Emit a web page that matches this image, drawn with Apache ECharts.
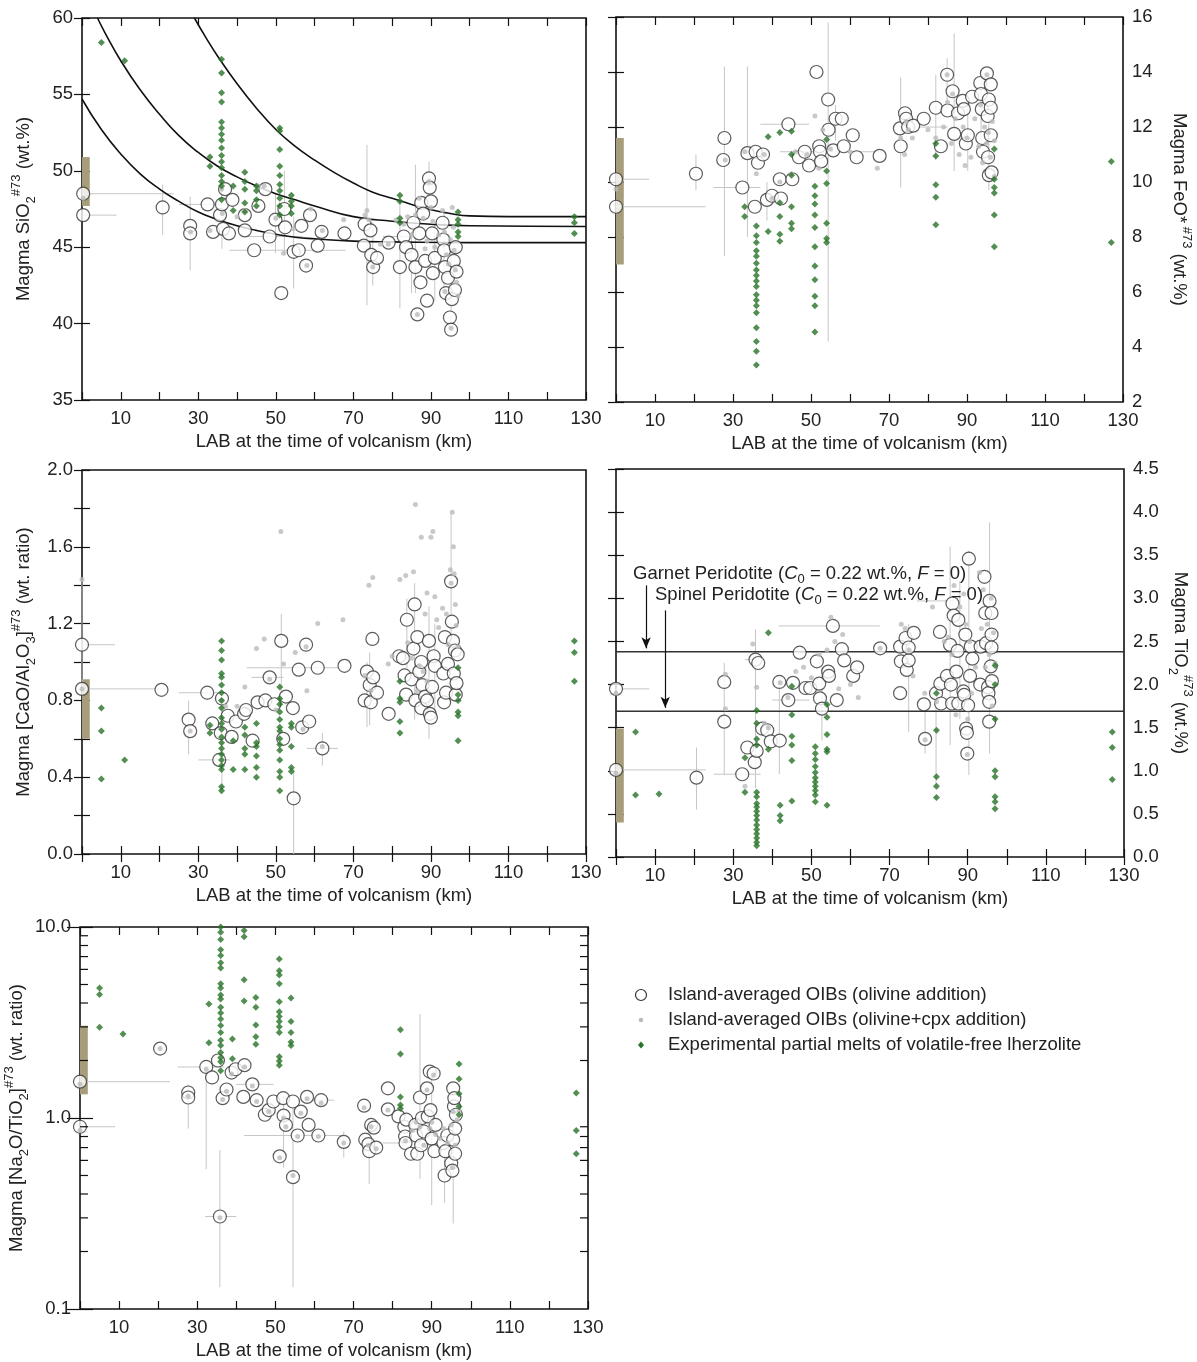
<!DOCTYPE html>
<html style="height: 100%">
<head>
  <meta charset="utf-8">
  <script src="https://cdn.jsdelivr.net/npm/echarts@6/dist/echarts.min.js"></script>
</head>
<body style="height: 100%; margin: 0; background: #fff">
  <div id="main" style="width: 1197px; height: 1362px"></div>
  <script type="text/javascript">
    // --- data (x = LAB depth in km) ---
    var legendNames = ['Island-averaged OIBs (olivine addition)',
                       'Island-averaged OIBs (olivine+cpx addition)',
                       'Experimental partial melts of volatile-free lherzolite'];

    // panel a: SiO2
    var sio2Circles = [[0.3,48.5],[0.3,47.1],[20.8,47.6],[27.9,46.4],[27.9,45.9],[32.4,47.8],[33.8,46.0],[35.6,47.1],[36.1,47.8],[36.4,46.2],[36.9,48.8],[37.9,45.9],[38.8,48.1],[42,47.1],[42,46.1],[44.4,44.8],[45.5,47.7],[47.3,48.8],[48.4,45.7],[49.9,46.8],[51.4,42.0],[52.2,47.5],[52.4,46.3],[54.6,44.7],[55.9,44.8],[56.6,46.4],[57.8,43.8],[58.8,47.1],[60.8,45.1],[61.8,46.0],[67.7,45.9],[72.7,45.1],[72.9,46.5],[74.4,46.1],[74.6,44.5],[75.1,43.7],[76.1,44.3],[79.1,45.3],[82,43.7],[83,45.7],[83.6,45.0],[85,44.5],[85.5,46.6],[86,43.7],[86.5,40.6],[87,45.9],[87.3,42.7],[87.5,47.9],[88,47.2],[88.5,44.1],[89,41.5],[89.5,49.5],[89.7,48.9],[90,48.0],[90.3,45.9],[90.5,43.3],[91,44.3],[93,46.6],[93.2,45.5],[93.4,44.8],[93.6,43.7],[93.9,42.0],[94.4,43.0],[94.9,40.4],[95.2,39.6],[95.4,41.6],[95.9,44.1],[96.2,42.2],[96.4,45.0],[96.6,43.4]];
    var sio2Greys = [[0.3,48.2],[28,46.0],[33,46.1],[36,48.8],[36.2,47.2],[40,47.0],[42,47.4],[45.5,49.0],[47,49.0],[50,46.9],[52,44.6],[54.5,46.2],[58,43.8],[59,47.5],[62,46.1],[67.5,46.8],[73,47.1],[73.5,47.4],[74,46.8],[75,43.7],[77,45.2],[79,45.2],[81,46.8],[83,46.5],[84,47.0],[85,45.8],[86,47.1],[86.5,40.6],[87,48.2],[88,46.9],[88.5,44.9],[89,45.4],[89.5,49.3],[90,47.6],[90.5,46.7],[91,45.0],[92,45.8],[93,47.4],[93.5,46.0],[94,44.5],[94.5,43.9],[95,45.5],[95.5,47.6],[95.8,46.3],[96,44.8],[96.3,43.5],[96.6,42.7],[97,41.8],[95.2,39.7],[93.6,42.1]];
    var sio2Melts = [[5,58.4],[11,57.2],[33,50.9],[33,50.3],[36,57.3],[36,56.4],[36,55.1],[36,54.5],[36,53.2],[36,52.8],[36,52.4],[36,52.0],[36,51.5],[36,51.0],[36,50.6],[36,50.2],[36,49.7],[36,49.3],[36,49.0],[36,48.1],[39,49.0],[39,47.4],[42,49.9],[42,49.3],[42,48.8],[42,47.9],[42,47.3],[45,49.0],[45,48.7],[45,48.1],[45,47.7],[51,52.8],[51,52.6],[51,51.4],[51,50.3],[51,49.7],[51,49.1],[51,48.7],[51,48.2],[51,47.7],[51,47.1],[54,48.4],[54,48.0],[54,47.7],[54,47.2],[82,48.4],[82,48.0],[82,46.9],[82,46.6],[97,47.3],[97,46.8],[97,46.5],[97,46.0],[97,45.7],[127,47.0],[127,46.6],[127,45.9]];
    // [x, y, xlo, xhi, ylo, yhi]
    var sio2Errors = [[0.3,48.5,0.3,23.7,48.5,48.5],[0.3,47.1,0.3,8.9,47.1,47.1],[20.8,47.6,20.8,20.8,45.8,49.1],[27.9,46.4,27.9,27.9,43.5,48.3],[32.4,47.8,25,37,47.8,47.8],[36.1,47.8,36.1,36.1,44.9,49.4],[44.4,44.8,38,68,44.8,44.8],[48.4,45.7,42,57,45.7,45.7],[49.9,46.8,49.9,49.9,44.6,48.5],[52.2,47.5,52.2,52.2,44.5,50.0],[54.6,44.7,54.6,54.6,42.3,47.0],[73.5,45.0,73.5,73.5,41.2,51.7],[82,43.7,82,82,41.0,48.0],[83,45.7,77.6,84.5,45.7,45.7],[86,43.7,86,86,42.0,50.4],[89.5,49.5,89.5,89.5,48.0,50.6],[93.4,44.8,93.4,93.4,41.6,47.4],[95.2,39.6,95.2,95.2,39.8,45.0],[75,44.5,75,75,42.5,46.6],[85,44.5,85,85,42.0,46.0],[91,44.3,91,91,41.5,46.5]];
    var sio2CurveLow = [[0,54.7],[5,52.7],[10,51.1],[15,49.8],[20,48.8],[25,48.0],[30,47.3],[35,46.8],[40,46.4],[45,46.1],[50,45.85],[55,45.65],[60,45.55],[70,45.4],[80,45.35],[100,45.3],[130,45.3]];
    var sio2CurveMid = [[4,60],[6,59.0],[10,57.2],[15,55.3],[20,53.7],[25,52.3],[30,51.2],[35,50.3],[40,49.6],[45,49.0],[50,48.5],[55,48.1],[60,47.7],[70,47.0],[80,46.7],[90,46.5],[100,46.4],[130,46.35]];
    var sio2CurveHigh = [[29,60],[32,58.7],[35,57.5],[40,55.7],[45,54.1],[50,52.7],[55,51.6],[60,50.7],[65,49.9],[70,49.2],[75,48.6],[80,48.2],[85,47.8],[90,47.45],[95,47.2],[100,47.05],[110,47.0],[130,47.0]];
    var sio2Band = [47.7, 50.9];

    // panel b: FeO*
    var feoCircles = [[0,10.1],[0,9.1],[20.5,10.3],[27.5,10.8],[27.8,11.6],[32.4,9.8],[33.7,11.05],[35.6,9.1],[35.8,11.1],[36.4,10.7],[37.7,11.0],[38.7,9.35],[40,9.5],[42,10.1],[42.3,9.4],[44.2,12.1],[45.2,10.1],[46.9,10.9],[48.4,11.1],[49.5,10.6],[51.4,14.0],[52.1,11.3],[52.3,11.1],[52.6,10.75],[54.4,13.0],[54.5,11.9],[55.7,11.15],[56.3,12.3],[57.9,12.3],[58.4,11.3],[60.7,11.7],[61.7,10.9],[67.6,10.95],[72.8,11.95],[73,11.3],[74.1,12.5],[74.4,12.3],[74.9,12.0],[76.2,12.05],[78.9,12.3],[82,12.7],[83.3,11.3],[85,12.6],[84.9,13.9],[86.3,13.3],[86.7,11.75],[87.7,12.5],[88.9,12.95],[89.2,12.65],[89.7,11.4],[90.2,11.7],[91.3,13.1],[93.4,13.6],[93.6,13.2],[93.8,12.65],[93.9,11.6],[94.1,11.1],[95.1,13.95],[95.3,12.4],[95.4,10.9],[95.6,13.0],[96.1,13.55],[96.1,12.7],[96.1,11.7],[95.6,10.25],[96.3,10.35]];
    var feoGreys = [[0,9.75],[28,10.8],[33,11.1],[36,10.3],[38,11.0],[40,9.4],[42,10.0],[45,10.3],[46,11.1],[49,11.0],[51,12.4],[52,10.5],[53,11.9],[55,11.2],[60,11.1],[67,10.5],[73,11.6],[74,11.0],[75,11.9],[76,11.6],[80,11.9],[82,11.6],[84,12.0],[85,12.9],[86,11.4],[87,12.3],[88,11.0],[89,12.0],[89.5,10.6],[90,11.6],[91,10.9],[92,12.3],[93,11.3],[93.5,12.8],[94,10.7],[94.5,12.0],[95,11.4],[95.5,11.8],[96,10.9],[96.5,12.2],[97,11.5],[97,10.2],[84.9,13.9],[95.1,13.9],[86.3,13.2],[74.4,12.2]];
    var feoMelts = [[33,9.1],[33,8.75],[36,8.4],[36,8.05],[36,7.8],[36,7.5],[36,7.3],[36,7.05],[36,6.8],[36,6.6],[36,6.4],[36,6.2],[36,5.9],[36,5.7],[36,5.5],[36,5.25],[36,4.7],[36,4.2],[36,3.85],[36,3.35],[39,11.65],[39,8.2],[42,11.8],[42,9.25],[42,8.75],[42,8.1],[42,7.85],[45,11.85],[45,11.0],[45,10.25],[45,9.1],[45,8.5],[45,8.3],[51,9.85],[51,9.5],[51,9.2],[51,8.8],[51,8.35],[51,7.65],[51,6.95],[51,6.45],[51,5.85],[51,5.5],[51,4.55],[54,11.55],[54,10.4],[54,9.95],[54,8.5],[54,7.95],[54,7.8],[82,11.4],[82,10.95],[82,9.9],[82,9.45],[82,8.45],[97,11.2],[97,10.1],[97,9.8],[97,9.6],[97,8.8],[97,7.65],[127,10.75],[127,7.8]];
    var feoErrors = [[0,10.1,0,8.5,10.1,10.1],[0,9.1,0,23,9.1,9.1],[20.5,10.3,20.5,20.5,9.7,11.0],[27.8,11.6,27.8,27.8,7.3,14.2],[32.4,9.8,25,37,9.8,9.8],[33.7,11.05,33.7,33.7,8.0,14.2],[38.7,9.35,38.7,38.7,8.6,10.0],[44.2,12.1,37,49.5,12.1,12.1],[52.3,11.1,42,68,11.1,11.1],[54.4,13.0,54.4,54.4,4.2,15.8],[56.3,12.3,56.3,56.3,11.5,12.8],[73,11.3,73,73,9.8,13.8],[79,12.0,76,85,12.0,12.0],[82,12.7,82,82,10.8,13.9],[84.9,13.9,84.9,84.9,12.6,14.5],[86.7,11.75,86.7,86.7,10.4,15.4],[90.2,11.7,90.2,90.2,10.4,12.9],[95.6,10.25,95.6,95.6,9.7,12.4],[93.6,13.2,93.6,93.6,11.5,13.8]];
    var feoBand = [7.0, 11.6];

    // panel c: CaO/Al2O3
    var caoCircles = [[0,1.09],[0,0.86],[20.5,0.855],[27.5,0.70],[27.9,0.64],[32.3,0.84],[33.6,0.68],[35.4,0.49],[35.8,0.63],[36.1,0.81],[37.6,0.72],[38.6,0.61],[39.7,0.69],[41.8,0.73],[42.3,0.75],[44,0.59],[45.3,0.79],[47.3,0.80],[48.4,0.92],[49.6,0.78],[51.4,1.11],[51.9,0.60],[52.6,0.82],[54.4,0.76],[54.6,0.29],[55.9,0.96],[56.8,0.66],[57.8,1.09],[58.6,0.69],[60.8,0.97],[62,0.55],[67.7,0.98],[72.9,0.80],[73.5,0.95],[74.2,0.88],[74.5,0.79],[74.9,1.12],[75.1,0.92],[76.1,0.84],[79.1,0.73],[81.8,1.03],[82.8,1.02],[83.2,0.93],[83.6,0.83],[83.8,1.22],[85,0.91],[85.5,1.07],[85.8,1.30],[86,0.80],[86.5,1.13],[87,0.95],[87.5,1.0],[87.5,0.76],[87.8,0.88],[88.5,0.82],[89,0.80],[89.5,1.11],[89.7,0.73],[90,0.71],[90.3,0.87],[90.7,1.03],[91,0.98],[93.2,0.94],[93.4,0.79],[93.6,1.13],[93.9,0.84],[94.4,0.99],[95.2,1.42],[95.4,1.21],[95.7,1.11],[95.9,0.94],[96.2,1.06],[96.4,0.83],[96.6,0.89],[96.9,1.04]];
    var caoGreys = [[0,1.43],[0,0.86],[27.9,0.64],[51.3,1.68],[67.3,1.22],[60.8,1.20],[47,1.12],[45,1.07],[55,1.05],[52,0.99],[58,0.85],[40,0.77],[42,0.87],[74,1.40],[75,1.44],[82,1.43],[83.5,1.45],[85.5,1.47],[86,1.82],[87.5,1.65],[88.5,1.25],[89,1.36],[90,1.65],[90.5,1.68],[91,1.34],[91.5,1.22],[92,1.18],[93,1.28],[94,1.25],[95,1.48],[95.5,1.78],[95.8,1.60],[96,1.46],[96.3,1.30],[96.5,1.19],[97,1.08],[94.5,1.09],[88,0.95],[89,0.90],[86.5,0.85],[84,1.10],[85,1.02],[87,0.98],[79,0.99],[80,1.03],[73,0.93],[74.5,0.85],[36,0.80],[37,0.77],[50,0.75],[62,0.56],[57,0.65],[95.2,1.41],[57.8,1.08],[48.4,0.91]];
    var caoMelts = [[5,0.76],[5,0.64],[5,0.39],[11,0.49],[33,0.67],[33,0.63],[36,1.11],[36,1.06],[36,1.01],[36,0.94],[36,0.92],[36,0.88],[36,0.84],[36,0.80],[36,0.76],[36,0.71],[36,0.68],[36,0.65],[36,0.61],[36,0.58],[36,0.55],[36,0.52],[36,0.49],[36,0.46],[36,0.44],[36,0.35],[36,0.33],[39,0.59],[39,0.44],[42,0.66],[42,0.62],[42,0.55],[42,0.52],[42,0.44],[45,0.68],[45,0.58],[45,0.56],[45,0.51],[45,0.45],[45,0.40],[51,0.87],[51,0.81],[51,0.78],[51,0.74],[51,0.70],[51,0.66],[51,0.64],[51,0.60],[51,0.57],[51,0.54],[51,0.49],[51,0.43],[51,0.40],[51,0.33],[54,0.68],[54,0.66],[54,0.56],[54,0.45],[54,0.43],[82,0.90],[82,0.81],[82,0.79],[82,0.69],[82,0.63],[97,0.97],[97,0.83],[97,0.80],[97,0.74],[97,0.72],[97,0.59],[127,1.11],[127,1.05],[127,0.90]];
    var caoErrors = [[0,1.09,0,8.5,1.09,1.09],[0,0.86,0,22,0.86,1.43],[27.5,0.70,27.5,27.5,0.52,0.80],[32.3,0.84,25,37,0.84,0.84],[35.4,0.49,30,38,0.49,0.49],[36.1,0.81,36.1,36.1,0.33,0.85],[48.4,0.92,43.7,52,0.92,0.92],[51.4,1.11,51.4,51.4,0.84,1.25],[54.6,0.29,54.6,54.6,0.0,0.45],[60.8,0.97,42.5,67.7,0.97,0.97],[62,0.55,58,66,0.46,0.63],[74.2,0.88,74.2,74.2,0.67,1.05],[83.8,1.22,83.8,83.8,0.97,1.33],[85.8,1.30,85.8,85.8,0.70,1.41],[89.5,1.11,89.5,89.5,0.60,1.29],[95.2,1.42,95.2,95.2,0.85,1.77],[73.5,0.95,73.5,73.5,0.66,1.0],[91,0.98,91,91,0.7,1.2]];
    var caoBand = [0.60, 0.91];

    // panel d: TiO2
    var tioCircles = [[0,1.95],[0,1.01],[20.6,0.92],[27.7,2.03],[27.7,1.57],[32.3,0.96],[33.6,1.27],[35.5,1.1],[35.7,2.29],[36.4,2.25],[36,1.23],[37.4,1.49],[38.7,1.47],[39.6,1.34],[41.9,1.35],[41.8,2.03],[44.1,1.82],[45.3,2.02],[47,2.37],[48.5,1.96],[49.7,1.96],[51.4,2.27],[52,2.01],[52.2,1.84],[52.7,1.72],[54.3,2.15],[54.5,2.1],[55.5,2.68],[56.5,1.82],[57.8,2.41],[58.4,2.28],[60.7,2.1],[61.7,2.2],[67.6,2.42],[72.7,2.44],[72.9,2.27],[72.7,1.9],[74.1,2.54],[74.4,2.17],[74.9,2.28],[74.9,2.43],[76.2,2.6],[78.8,1.77],[79.1,1.37],[81.9,1.9],[82.9,2.61],[83,2.01],[83.2,1.78],[84.7,2.1],[85.5,2.46],[85.7,2.0],[86,1.78],[86.1,2.94],[86.4,2.8],[87.1,2.15],[87.4,2.39],[87.6,1.78],[87.6,2.75],[88.9,1.92],[89.1,1.88],[89.4,2.58],[89.6,1.49],[89.8,1.44],[89.9,1.2],[90.1,1.76],[90.3,3.46],[90.6,2.1],[90.8,2.44],[91.2,2.3],[93.2,2.0],[93.3,2.44],[94.3,3.25],[94.5,2.83],[94.7,2.48],[95.2,1.97],[95.3,1.9],[95.5,1.8],[95.5,1.57],[95.6,2.97],[95.9,2.21],[96.1,2.83],[96.1,2.58],[96.1,2.43],[96.2,2.04]];
    var tioGreys = [[0,1.9],[0,0.97],[28,2.12],[28,1.72],[33,0.82],[35,2.47],[36,1.97],[38,1.55],[39,1.5],[42,2.02],[44,1.85],[46,2.15],[48,2.2],[50,2.08],[52,2.35],[54,2.4],[55,2.78],[56,2.5],[57,1.95],[58,2.58],[60,2.0],[62,1.85],[73,2.7],[74,2.65],[75,2.4],[76,2.1],[79,1.9],[81,2.9],[82,1.8],[84,2.5],[85,2.55],[86,2.35],[86.5,3.15],[87,1.65],[88,2.9],[89,3.05],[89.5,2.7],[90,1.6],[90.5,2.5],[91,1.9],[92,2.2],[93,3.3],[93.5,2.65],[94,3.1],[94.5,2.2],[95,2.7],[95.5,2.35],[96,3.0],[96.3,1.75],[96.6,2.6],[97,2.25],[89.9,1.19],[79.1,1.36],[67.6,2.42]];
    var tioMelts = [[5,1.45],[5,0.72],[11,0.73],[33,1.15],[33,0.75],[36,1.70],[36,1.55],[36,1.37],[36,1.30],[36,0.75],[36,0.70],[36,0.62],[36,0.58],[36,0.53],[36,0.48],[36,0.43],[36,0.37],[36,0.32],[36,0.27],[36,0.22],[36,0.17],[36,0.13],[39,2.60],[39,1.25],[42,0.60],[42,0.48],[42,0.42],[45,1.98],[45,1.65],[45,1.40],[45,1.30],[45,1.12],[45,0.65],[51,1.28],[51,1.20],[51,1.13],[51,1.05],[51,0.98],[51,0.92],[51,0.87],[51,0.82],[51,0.77],[51,0.72],[51,0.64],[54,1.77],[54,1.62],[54,1.42],[54,1.25],[54,1.22],[54,0.60],[82,1.90],[82,1.47],[82,0.93],[82,0.82],[82,0.69],[97,2.22],[97,2.00],[97,1.60],[97,1.00],[97,0.93],[97,0.70],[97,0.64],[97,0.56],[127,1.45],[127,1.27],[127,0.90]];
    var tioErrors = [[0,1.95,0,8.5,1.95,1.95],[0,1.01,0,23,1.01,1.01],[20.6,0.92,20.6,20.6,0.55,1.27],[27.7,2.03,27.7,27.7,0.95,2.25],[32.3,0.96,25,37,0.96,0.96],[35.7,2.29,33,37,0.80,2.64],[41.8,2.03,41.8,41.8,0.96,2.1],[44.1,1.82,40,49.5,1.82,1.82],[55.5,2.68,41.6,67.5,2.68,2.68],[52.7,1.72,52.7,52.7,1.35,2.2],[74.9,2.28,74.9,74.9,1.45,2.7],[79.1,1.37,79.1,79.1,1.2,1.85],[81.9,1.9,81.9,81.9,0.85,2.0],[82,2.97,77,87,2.97,2.97],[85.5,2.46,85.5,85.5,1.3,3.6],[90.3,3.46,90.3,90.3,0.95,3.55],[95.6,2.97,95.6,95.6,1.2,3.88],[88,2.39,88,88,1.6,3.2]];
    var tioBand = [0.40, 1.49];
    var garnetLevel = 2.38;
    var spinelLevel = 1.69;
    var garnetArrow = [[7.7, 3.15], [7.7, 2.42]];
    var spinelArrow = [[12.6, 2.86], [12.6, 1.73]];

    // panel e: Na2O/TiO2 (log)
    var naCircles = [[0,1.55],[0,0.90],[20.5,2.31],[27.7,1.36],[27.7,1.28],[32.3,1.85],[33.8,1.63],[35.3,2.0],[35.8,0.305],[36.5,1.27],[37.5,1.41],[38.8,1.73],[39.8,1.80],[42.1,1.89],[41.8,1.29],[44.1,1.5],[45.2,1.24],[47.3,1.04],[48.3,1.10],[49.5,1.22],[51.1,0.63],[52,1.27],[52.1,1.03],[52.7,0.92],[54.5,1.22],[54.5,0.49],[55.7,0.81],[56.5,1.08],[58.1,1.29],[58.5,0.92],[61,0.81],[61.7,1.24],[67.5,0.75],[72.7,1.16],[73,0.77],[73.8,0.73],[74,0.67],[74.5,0.92],[75.2,0.89],[75.8,0.70],[78.8,1.43],[78.8,1.11],[81.5,1.02],[83,0.90],[83.2,0.80],[83.3,0.74],[83.5,0.98],[84.7,0.65],[85.8,0.92],[86,0.81],[86.3,0.65],[87,1.28],[87.3,0.72],[87.5,1.0],[88,0.85],[88.8,1.43],[89,1.02],[89.5,1.75],[89.7,1.10],[90,0.78],[90.5,1.71],[90.7,0.67],[91,0.92],[93,0.74],[93.3,0.50],[93.5,0.67],[94,0.81],[95,0.58],[95.3,0.53],[95.5,1.43],[95.5,0.77],[95.7,1.15],[95.8,1.27],[96,0.65],[96,0.88],[96.2,1.04]];
    var naGreys = [[0,1.5],[0,0.86],[20.5,2.31],[27.7,1.3],[32.3,1.8],[35.8,0.3],[36.5,1.25],[37.5,1.38],[38.8,1.7],[42.1,1.85],[44.1,1.47],[45.2,1.22],[48.3,1.08],[51.1,0.62],[52.1,1.0],[52.7,0.9],[54.5,0.5],[55.7,0.8],[56.5,1.06],[58.1,1.26],[61,0.8],[61.7,1.2],[67.5,0.74],[72.7,1.13],[73.8,0.72],[74.5,0.9],[75.8,0.69],[78.8,1.1],[83.3,0.76],[85,0.86],[86,0.95],[87,0.9],[88,0.72],[88.8,1.4],[89.5,0.88],[90,0.95],[90.5,1.68],[91,0.82],[92,0.78],[93,0.88],[94,0.74],[95,0.92],[95.5,1.08],[96,0.72],[96.5,0.98],[97,1.1],[95.3,0.55]];
    var naMelts = [[5,4.8],[5,4.43],[5,2.99],[11,2.75],[33,3.95],[33,2.48],[36,10.0],[36,9.4],[36,8.6],[36,7.6],[36,7.1],[36,6.5],[36,6.1],[36,5.05],[36,4.8],[36,4.4],[36,4.2],[36,3.8],[36,3.55],[36,3.3],[36,3.05],[36,2.8],[36,2.55],[36,2.4],[36,2.2],[36,2.07],[36,1.97],[36,1.77],[39,2.59],[39,2.04],[42,9.6],[42,8.9],[42,5.3],[42,4.1],[45,4.27],[45,3.8],[45,3.07],[45,2.66],[45,2.43],[51,6.8],[51,5.9],[51,5.6],[51,5.05],[51,4.06],[51,3.6],[51,3.4],[51,3.2],[51,3.0],[51,2.8],[51,2.09],[51,1.99],[51,1.89],[54,4.25],[54,3.2],[54,2.8],[54,2.5],[54,2.4],[82,2.9],[82,2.16],[82,1.29],[82,1.17],[82,1.12],[97,1.92],[97,1.6],[97,1.34],[97,1.15],[97,1.04],[127,1.35],[127,0.86],[127,0.65]];
    var naErrors = [[0,1.55,0,23,1.55,1.55],[0,0.90,0,9,0.90,0.90],[27.7,1.28,27.7,27.7,0.88,1.5],[32.3,1.85,25,37,0.54,1.85],[35.8,0.305,32,40,0.13,0.68],[44.1,1.5,40,49.5,1.5,1.5],[52.1,1.03,52.1,52.1,0.55,1.3],[54.5,0.49,54.5,54.5,0.13,1.2],[61,0.81,42,67.5,0.81,0.81],[61.7,1.24,58,65,1.24,1.24],[67.5,0.75,67.5,67.5,0.62,0.85],[74,0.67,74,74,0.45,0.98],[83.3,0.74,77.5,83.5,0.74,0.74],[87,1.28,87,87,0.48,3.5],[90,0.78,90,90,0.35,1.8],[93.3,0.50,93.3,93.3,0.36,0.8],[95.5,0.77,95.5,95.5,0.28,1.1]];
    var naBand = [1.33, 3.04];
    var logMinorTicks = [0.2,0.3,0.4,0.5,0.6,0.7,0.8,0.9,2,3,4,5,6,7,8,9];

    // --- styling ---
    var FONT = '"Liberation Sans", Arial, sans-serif';
    var INK = '#222';
    var FS = 18.5;
    var grids = [
      { left: 82, top: 18, width: 504, height: 382 },
      { left: 616, top: 17, width: 507, height: 385 },
      { left: 82, top: 470, width: 504, height: 384 },
      { left: 616, top: 469, width: 508, height: 388 },
      { left: 80, top: 927, width: 508, height: 382 }
    ];
    grids.forEach(function (g) {
      g.show = true; g.borderColor = '#111'; g.borderWidth = 1.6; g.backgroundColor = 'transparent';
    });

    var nameRich = {
      t: { fontSize: FS, color: INK, lineHeight: 28, fontFamily: FONT },
      sub: { fontSize: 13, color: INK, lineHeight: 20, verticalAlign: 'bottom', fontFamily: FONT },
      sup: { fontSize: 13, color: INK, lineHeight: 16, verticalAlign: 'top', fontFamily: FONT }
    };
    var tick = { inside: true, length: 8, lineStyle: { color: '#111', width: 1.2 } };
    var tickLabel = { fontSize: FS, color: INK, fontFamily: FONT, margin: 9 };

    var xAxes = [], yAxes = [];
    grids.forEach(function (g, i) {
      xAxes.push({
        gridIndex: i, type: 'value', min: 0, max: 130, interval: 10, position: 'bottom',
        name: 'LAB at the time of volcanism (km)', nameLocation: 'middle', nameGap: 32,
        nameTextStyle: { fontSize: FS, color: INK, fontFamily: FONT },
        axisLine: { show: false }, axisTick: tick, splitLine: { show: false },
        axisLabel: Object.assign({}, tickLabel, {
          formatter: function (v) { return v % 20 === 10 ? String(v) : ''; } })
      });
      xAxes.push({
        gridIndex: i, type: 'value', min: 0, max: 130, interval: 10, position: 'top',
        axisLine: { show: false }, axisTick: tick, axisLabel: { show: false }, splitLine: { show: false }
      });
    });

    function yPair(i, side, cfg, name, gap) {
      var other = side === 'left' ? 'right' : 'left';
      var main = Object.assign({
        gridIndex: i, position: side, name: name, nameLocation: 'middle', nameGap: gap,
        nameRotate: side === 'left' ? 90 : -90,
        nameTextStyle: { rich: nameRich },
        axisLine: { show: false }, axisTick: tick, splitLine: { show: false },
        axisLabel: tickLabel
      }, cfg);
      var mirror = Object.assign({
        gridIndex: i, position: other, axisLine: { show: false }, axisTick: tick,
        splitLine: { show: false }
      }, cfg);
      mirror.axisLabel = { show: false };
      yAxes.push(main, mirror);
    }
    yPair(0, 'left', { type: 'value', min: 35, max: 60, interval: 5 },
      '{t|Magma SiO}{sub|2}{sup|#73}{t| (wt.%)}', 44);
    yPair(1, 'right', { type: 'value', min: 2, max: 16, interval: 2 },
      '{t|Magma FeO*}{sup| #73}{t| (wt.%)}', 42);
    yPair(2, 'left', { type: 'value', min: 0, max: 2, interval: 0.2,
      axisLabel: Object.assign({}, tickLabel, {
        formatter: function (v) { return Math.round(v * 10) % 4 === 0 ? v.toFixed(1) : ''; } }) },
      '{t|Magma [CaO/Al}{sub|2}{t|O}{sub|3}{t|]}{sup|#73}{t| (wt. ratio)}', 44);
    yPair(3, 'right', { type: 'value', min: 0, max: 4.5, interval: 0.5,
      axisLabel: Object.assign({}, tickLabel, {
        formatter: function (v) { return v.toFixed(1); } }) },
      '{t|Magma TiO}{sub|2}{sup|#73}{t| (wt.%)}', 42);
    yPair(4, 'left', { type: 'log', logBase: 10, min: 0.1, max: 10,
      axisTick: { inside: true, length: 13, lineStyle: { color: '#111', width: 1.2 } },
      axisLabel: Object.assign({}, tickLabel, {
        formatter: function (v) { return Number(v).toFixed(1); } }) },
      '{t|Magma [Na}{sub|2}{t|O/TiO}{sub|2}{t|]}{sup|#73}{t| (wt. ratio)}', 42);

    function errItem(params, api) {
      var x = api.value(0), y = api.value(1);
      var xlo = api.value(2), xhi = api.value(3), ylo = api.value(4), yhi = api.value(5);
      var st = { stroke: '#c6c6c6', lineWidth: 1 };
      var ch = [];
      if (xhi > xlo) {
        var a = api.coord([xlo, y]), b = api.coord([xhi, y]);
        ch.push({ type: 'line', shape: { x1: a[0], y1: a[1], x2: b[0], y2: b[1] }, style: st });
      }
      if (yhi > ylo) {
        var c = api.coord([x, ylo]), d = api.coord([x, yhi]);
        ch.push({ type: 'line', shape: { x1: c[0], y1: c[1], x2: d[0], y2: d[1] }, style: st });
      }
      return { type: 'group', children: ch };
    }

    function panel(i, circles, greys, melts, errs, band) {
      var ax = { xAxisIndex: 2 * i, yAxisIndex: 2 * i };
      return [
        Object.assign({ type: 'custom', data: errs, renderItem: errItem, silent: true, z: 1,
          encode: { x: [0, 2, 3], y: [1, 4, 5] } }, ax),
        Object.assign({ type: 'scatter', name: legendNames[0], data: circles, symbol: 'circle', symbolSize: 13,
          itemStyle: { color: '#fff', borderColor: '#333', borderWidth: 1.2 }, z: 3,
          markArea: { silent: true, itemStyle: { color: '#a89d7a' },
            data: [[{ coord: [0, band[0]] }, { coord: [2, band[1]] }]] } }, ax),
        Object.assign({ type: 'scatter', name: legendNames[1], data: greys, symbol: 'circle', symbolSize: 5,
          itemStyle: { color: '#bababa' }, z: 4 }, ax),
        Object.assign({ type: 'scatter', name: legendNames[2], data: melts, symbol: 'diamond', symbolSize: 7,
          itemStyle: { color: '#287328' }, z: 5 }, ax)
      ];
    }

    function curve(data) {
      return { type: 'line', xAxisIndex: 0, yAxisIndex: 0, data: data, smooth: true, showSymbol: false,
        symbol: 'none', lineStyle: { color: '#111', width: 1.6 }, z: 2, silent: true };
    }
    function level(v, arrow) {
      return { type: 'line', xAxisIndex: 6, yAxisIndex: 6, data: [[0, v], [130, v]], symbol: 'none',
        lineStyle: { color: '#333', width: 1.6 }, z: 2, silent: true,
        markLine: { silent: true, symbol: ['none', 'arrow'], symbolSize: [7, 11],
          lineStyle: { color: '#111', width: 1.2, type: 'solid' }, label: { show: false },
          data: [[{ coord: arrow[0] }, { coord: arrow[1] }]] } };
    }

    var series = [].concat(
      [curve(sio2CurveLow), curve(sio2CurveMid), curve(sio2CurveHigh)],
      panel(0, sio2Circles, sio2Greys, sio2Melts, sio2Errors, sio2Band),
      panel(1, feoCircles, feoGreys, feoMelts, feoErrors, feoBand),
      panel(2, caoCircles, caoGreys, caoMelts, caoErrors, caoBand),
      [level(garnetLevel, garnetArrow), level(spinelLevel, spinelArrow)],
      panel(3, tioCircles, tioGreys, tioMelts, tioErrors, tioBand),
      panel(4, naCircles, naGreys, naMelts, naErrors, naBand),
      [{ type: 'custom', xAxisIndex: 8, yAxisIndex: 8, silent: true, z: 6,
         data: logMinorTicks.map(function (v) { return [0, v]; }), encode: { x: 0, y: 1 },
         renderItem: function (params, api) {
           var cs = params.coordSys;
           var y = api.coord([0, api.value(1)])[1];
           var st = { stroke: '#111', lineWidth: 1.2 };
           return { type: 'group', children: [
             { type: 'line', shape: { x1: cs.x, y1: y, x2: cs.x + 8, y2: y }, style: st },
             { type: 'line', shape: { x1: cs.x + cs.width - 8, y1: y, x2: cs.x + cs.width, y2: y }, style: st }
           ] };
         } }]
    );

    var annRich = {
      t: { fontSize: FS, fill: INK, fontFamily: FONT, lineHeight: 24 },
      i: { fontSize: FS, fill: INK, fontFamily: FONT, fontStyle: 'italic', lineHeight: 24 },
      s: { fontSize: 13, fill: INK, fontFamily: FONT, lineHeight: 18, verticalAlign: 'bottom' }
    };
    var legendY = [995, 1020, 1045];
    var graphic = [
      { type: 'text', left: 633, top: 564, z: 20, style: { rich: annRich,
        text: '{t|Garnet Peridotite (}{i|C}{s|0}{t| = 0.22 wt.%, }{i|F}{t| = 0)}' } },
      { type: 'text', left: 655, top: 585, z: 20, style: { rich: annRich,
        text: '{t|Spinel Peridotite (}{i|C}{s|0}{t| = 0.22 wt.%, }{i|F}{t| = 0)}' } },
      { type: 'circle', shape: { cx: 641, cy: legendY[0], r: 5.5 }, style: { fill: '#fff', stroke: '#333', lineWidth: 1.2 } },
      { type: 'circle', shape: { cx: 641, cy: legendY[1], r: 2.3 }, style: { fill: '#bababa' } },
      { type: 'polygon', shape: { points: [[641, legendY[2] - 3.5], [644, legendY[2]], [641, legendY[2] + 3.5], [638, legendY[2]]] },
        style: { fill: '#287328' } }
    ];
    legendNames.forEach(function (n, k) {
      graphic.push({ type: 'text', left: 668, top: legendY[k] - 10,
        style: { text: n, fontSize: FS, fill: INK, fontFamily: FONT } });
    });

    var myChart = echarts.init(document.getElementById('main'));
    var option = {
      animation: false,
      backgroundColor: '#fff',
      textStyle: { fontFamily: FONT },
      grid: grids,
      xAxis: xAxes,
      yAxis: yAxes,
      series: series,
      graphic: graphic
    };
    myChart.setOption(option, true);
  </script>
</body>
</html>
